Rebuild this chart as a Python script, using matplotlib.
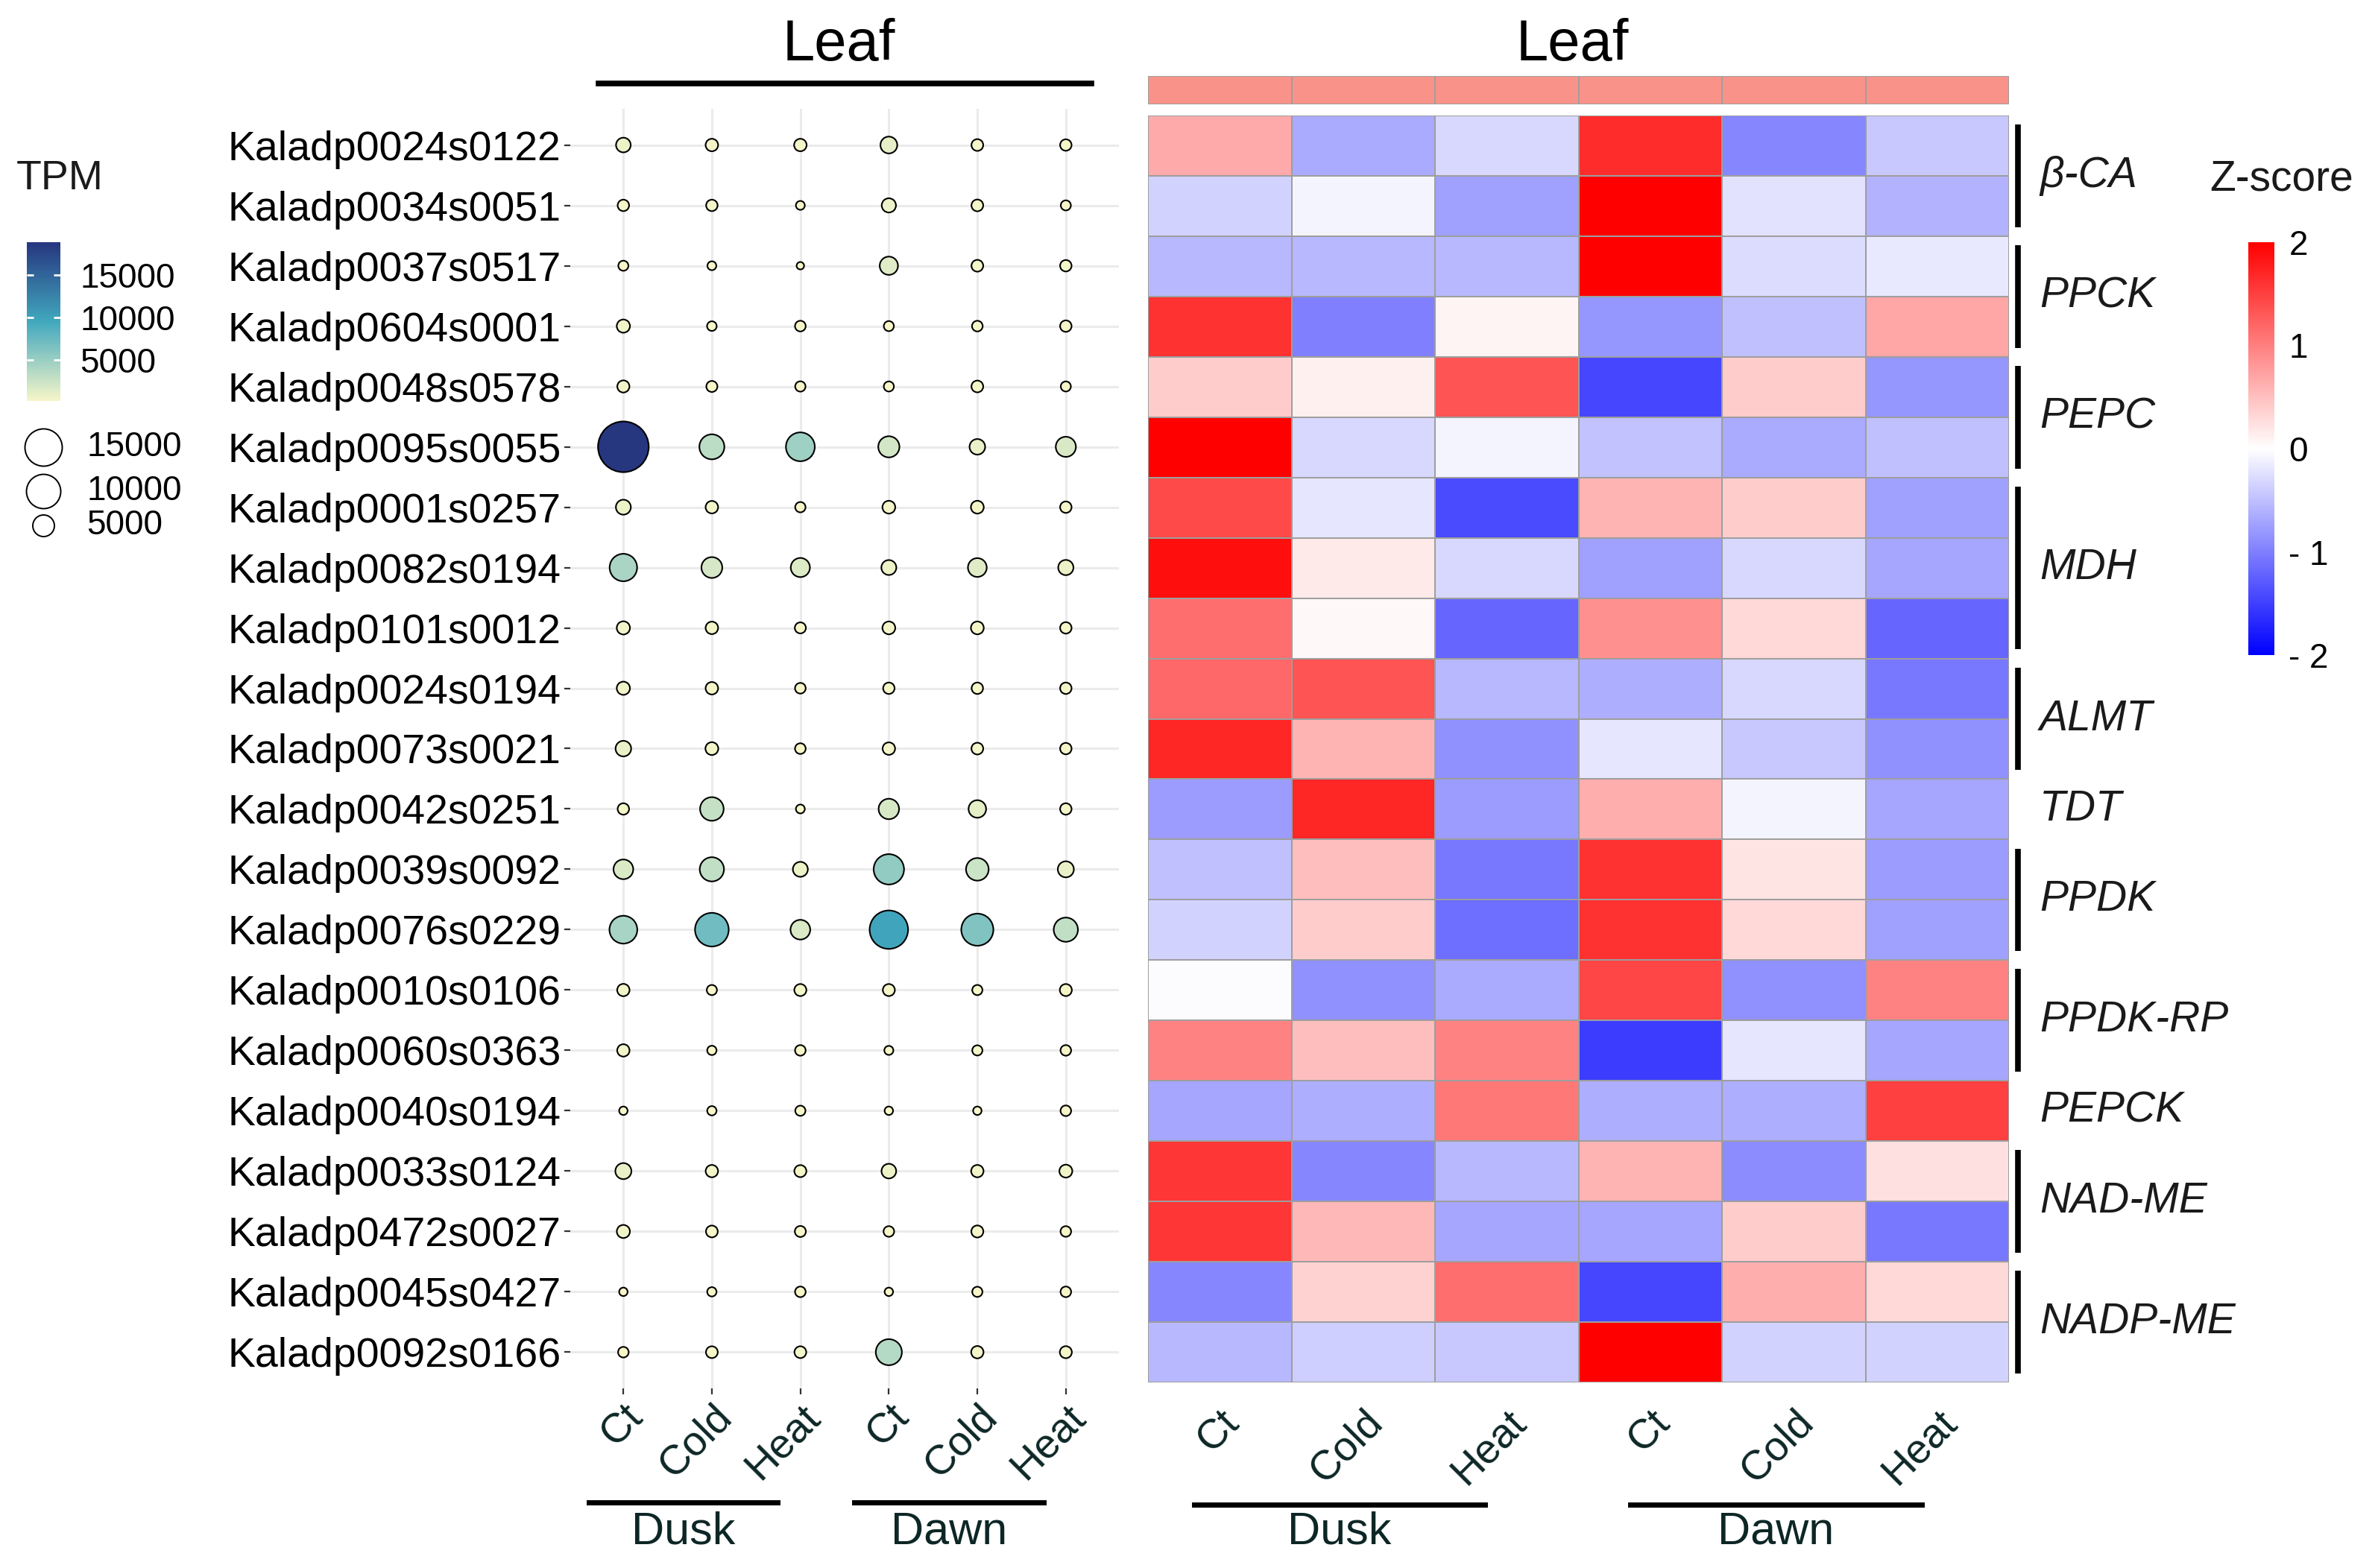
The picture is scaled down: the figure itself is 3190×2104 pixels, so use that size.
import numpy as np
import matplotlib
matplotlib.use('Agg')
import matplotlib.pyplot as plt
from matplotlib.colors import LinearSegmentedColormap, ListedColormap, Normalize
from matplotlib.lines import Line2D
from matplotlib.cm import ScalarMappable

plt.rcParams['font.family'] = ['Liberation Sans', 'DejaVu Sans']

# genes, top to bottom
genes = ['Kaladp0024s0122', 'Kaladp0034s0051', 'Kaladp0037s0517', 'Kaladp0604s0001',
         'Kaladp0048s0578', 'Kaladp0095s0055', 'Kaladp0001s0257', 'Kaladp0082s0194',
         'Kaladp0101s0012', 'Kaladp0024s0194', 'Kaladp0073s0021', 'Kaladp0042s0251',
         'Kaladp0039s0092', 'Kaladp0076s0229', 'Kaladp0010s0106', 'Kaladp0060s0363',
         'Kaladp0040s0194', 'Kaladp0033s0124', 'Kaladp0472s0027', 'Kaladp0045s0427',
         'Kaladp0092s0166']
conditions = ['Ct', 'Cold', 'Heat', 'Ct', 'Cold', 'Heat']
periods = ['Dusk', 'Dawn']
tissue = ['Leaf'] * 6

# TPM (columns: Dusk Ct/Cold/Heat, Dawn Ct/Cold/Heat)
tpm = [
    [718, 454, 454, 1076, 387, 360],
    [360, 360, 221, 660, 387, 270],
    [270, 221, 200, 1366, 387, 360],
    [531, 247, 305, 270, 305, 360],
    [420, 330, 283, 270, 387, 270],
    [18850, 3270, 4770, 2072, 860, 1800],
    [760, 454, 283, 490, 490, 360],
    [4200, 1990, 1560, 760, 1480, 800],
    [531, 454, 330, 490, 490, 360],
    [531, 454, 305, 360, 360, 360],
    [860, 490, 305, 454, 387, 360],
    [360, 2800, 221, 1880, 1216, 360],
    [1698, 3000, 760, 5440, 2490, 935],
    [4350, 7050, 1698, 9780, 6260, 3000],
    [440, 275, 410, 410, 275, 410],
    [440, 235, 300, 225, 275, 300],
    [210, 235, 275, 210, 210, 300],
    [935, 440, 410, 718, 440, 500],
    [520, 390, 330, 300, 410, 300],
    [210, 235, 300, 210, 275, 300],
    [300, 390, 390, 3650, 440, 410],
]

# row z-scores
zscore = [
    [0.67, -0.67, -0.30, 1.65, -0.95, -0.43],
    [-0.35, -0.08, -0.75, 2.00, -0.23, -0.60],
    [-0.55, -0.55, -0.55, 2.00, -0.27, -0.18],
    [1.60, -1.00, 0.08, -0.82, -0.50, 0.70],
    [0.40, 0.12, 1.33, -1.45, 0.40, -0.82],
    [2.00, -0.30, -0.08, -0.47, -0.67, -0.50],
    [1.41, -0.20, -1.41, 0.59, 0.40, -0.75],
    [1.88, 0.16, -0.30, -0.75, -0.30, -0.70],
    [1.14, 0.05, -1.20, 0.86, 0.31, -1.20],
    [1.18, 1.33, -0.55, -0.63, -0.30, -1.06],
    [1.69, 0.59, -0.86, -0.20, -0.43, -0.86],
    [-0.78, 1.69, -0.78, 0.63, -0.08, -0.70],
    [-0.50, 0.51, -1.06, 1.60, 0.21, -0.78],
    [-0.35, 0.40, -1.14, 1.60, 0.31, -0.75],
    [-0.02, -0.86, -0.67, 1.45, -0.86, 0.98],
    [0.98, 0.51, 0.98, -1.53, -0.20, -0.70],
    [-0.70, -0.63, 1.06, -0.63, -0.63, 1.49],
    [1.57, -0.94, -0.55, 0.59, -0.90, 0.24],
    [1.57, 0.55, -0.70, -0.70, 0.40, -1.06],
    [-0.94, 0.35, 1.14, -1.45, 0.63, 0.31],
    [-0.55, -0.39, -0.43, 2.00, -0.35, -0.35],
]

# gene families: (label, first row, last row)
groups = [('β-CA', 0, 1), ('PPCK', 2, 3), ('PEPC', 4, 5), ('MDH', 6, 8),
          ('ALMT', 9, 10), ('TDT', 11, 11), ('PPDK', 12, 13), ('PPDK-RP', 14, 15),
          ('PEPCK', 16, 16), ('NAD-ME', 17, 18), ('NADP-ME', 19, 20)]

W, H = 3190, 2104
fig = plt.figure(figsize=(W / 100, H / 100), dpi=100)


def fx(px):
    return px / W


def fy(py):
    return 1 - py / H


def box(x0, y0, x1, y1):
    return [fx(x0), fy(y1), (x1 - x0) / W, (y1 - y0) / H]


dark = '#0d2626'
tpm_arr = np.array(tpm, dtype=float)
zs_arr = np.array(zscore)
vmin, vmax = tpm_arr.min(), tpm_arr.max()

dot_cmap = LinearSegmentedColormap.from_list('tpm', ['#F7F6C8', '#41A8BE', '#26367F'])
z_cmap = LinearSegmentedColormap.from_list('z', ['#0000FF', '#FFFFFF', '#FF0000'])

# ---------------- dot plot ----------------
ax1 = fig.add_axes(box(765, 146, 1501, 1863))
xx, yy = np.meshgrid(np.arange(6), np.arange(len(genes)))
frac = (tpm_arr - vmin) / (vmax - vmin)
diam = 10 + 58 * np.sqrt(frac)          # pixels
sizes = (diam * 0.72) ** 2
ax1.scatter(xx.ravel(), yy.ravel(), s=sizes.ravel(), c=tpm_arr.ravel(), cmap=dot_cmap,
            vmin=vmin, vmax=vmax, edgecolors='black', linewidths=1.5, zorder=3)
ax1.set_xlim(-0.6, 5.6)
ax1.set_ylim(len(genes) - 0.4, -0.6)
ax1.set_xticks(range(6))
ax1.set_yticks(range(len(genes)))
ax1.set_yticklabels(genes, fontsize=40, color='black')
ax1.set_xticklabels(conditions, fontsize=40, color=dark, rotation=45,
                    ha='right', va='top', rotation_mode='anchor')
ax1.grid(True, color='#EBEBEB', lw=2.2, zorder=0)
ax1.set_axisbelow(True)
for s in ax1.spines.values():
    s.set_visible(False)
ax1.tick_params(axis='both', length=6, width=1.6, color='#333333', pad=3)

# ---------------- heatmap ----------------
ax2 = fig.add_axes(box(1540, 155, 2695, 1855))
ax2.pcolormesh(np.arange(7), np.arange(len(genes) + 1), zs_arr, cmap=z_cmap,
               vmin=-2, vmax=2, edgecolors='#9E9E9E', linewidth=1.2)
ax2.set_xlim(0, 6)
ax2.set_ylim(len(genes), 0)
ax2.set_yticks([])
ax2.set_xticks(np.arange(6) + 0.5)
ax2.set_xticklabels(conditions, fontsize=40, color=dark, rotation=45,
                    ha='right', va='top', rotation_mode='anchor')
ax2.tick_params(axis='x', length=0, pad=20)
for s in ax2.spines.values():
    s.set_visible(False)

# bracket lines and family labels
trans = ax2.get_yaxis_transform()
xb = 1 + 12 / 1155
for name, a, b in groups:
    if b > a:
        ax2.plot([xb, xb], [a + 0.15, b + 0.85], color='black', lw=5.5,
                 transform=trans, clip_on=False, solid_capstyle='butt')
    ax2.text(1 + 41 / 1155, (a + b + 1) / 2, name, transform=trans, fontsize=41,
             style='italic', va='center', ha='left', color='#1a1a1a')

# tissue annotation bar
ax3 = fig.add_axes(box(1540, 102, 2695, 140))
ax3.pcolormesh(np.arange(7), [0, 1], np.zeros((1, len(tissue))),
               cmap=ListedColormap(['#F99389']), edgecolors='#9E9E9E', linewidth=1.2)
ax3.set_xlim(0, 6)
ax3.set_ylim(0, 1)
ax3.axis('off')

# ---------------- titles and group bars ----------------
fig.text(fx(1125), fy(61), 'Leaf', fontsize=56, ha='center', va='center')
fig.text(fx(2109), fy(61), 'Leaf', fontsize=56, ha='center', va='center')
fig.add_artist(Line2D([fx(803), fx(1464)], [fy(112)] * 2, color='black', lw=5.5))

for (x0, x1), name in zip([(790, 1043), (1146, 1400)], periods):
    fig.add_artist(Line2D([fx(x0), fx(x1)], [fy(2016)] * 2, color='black', lw=5))
    fig.text(fx((x0 + x1) / 2), fy(2056), name, fontsize=44, ha='center', va='center', color=dark)
for (x0, x1), name in zip([(1602, 1992), (2187, 2578)], periods):
    fig.add_artist(Line2D([fx(x0), fx(x1)], [fy(2019)] * 2, color='black', lw=5))
    fig.text(fx((x0 + x1) / 2), fy(2056), name, fontsize=44, ha='center', va='center', color=dark)

# ---------------- TPM legend ----------------
fig.text(fx(22), fy(240), 'TPM', fontsize=40, ha='left', va='center', color='#1a1a1a')
cax1 = fig.add_axes(box(36, 325, 81, 538))
cb1 = fig.colorbar(ScalarMappable(norm=Normalize(vmin, vmax), cmap=dot_cmap), cax=cax1)
cb1.outline.set_visible(False)
cb1.set_ticks([5000, 10000, 15000])
cb1.ax.tick_params(length=0, labelsize=33, pad=19)
for t in [5000, 10000, 15000]:
    cax1.hlines(t, 0, 0.2, color='white', lw=2, transform=cax1.get_yaxis_transform())
    cax1.hlines(t, 0.8, 1, color='white', lw=2, transform=cax1.get_yaxis_transform())

leg_vals = [15000, 10000, 5000]
leg_diam = [50, 46, 29]
leg_y = [600, 659, 705]
for v, d, yv in zip(leg_vals, leg_diam, leg_y):
    fig.add_artist(Line2D([fx(58)], [fy(yv)], marker='o', markersize=d * 0.72,
                          markerfacecolor='white', markeredgecolor='black',
                          markeredgewidth=1.4, linestyle='none'))
    fig.text(fx(116), fy(yv), str(v), fontsize=33, ha='left', va='center')

# ---------------- Z-score legend ----------------
fig.text(fx(3061), fy(240), 'Z-score', fontsize=41, ha='center', va='center', color='#1a1a1a')
cax2 = fig.add_axes(box(3016, 325, 3051, 879))
cb2 = fig.colorbar(ScalarMappable(norm=Normalize(-2, 2), cmap=z_cmap), cax=cax2)
cb2.outline.set_visible(False)
cb2.set_ticks([-2, -1, 0, 1, 2])
cb2.set_ticklabels(['- 2', '- 1', '0', '1', '2'])
cb2.ax.tick_params(length=0, labelsize=33, pad=14)

fig.savefig('out.png', dpi=100, facecolor='white')
